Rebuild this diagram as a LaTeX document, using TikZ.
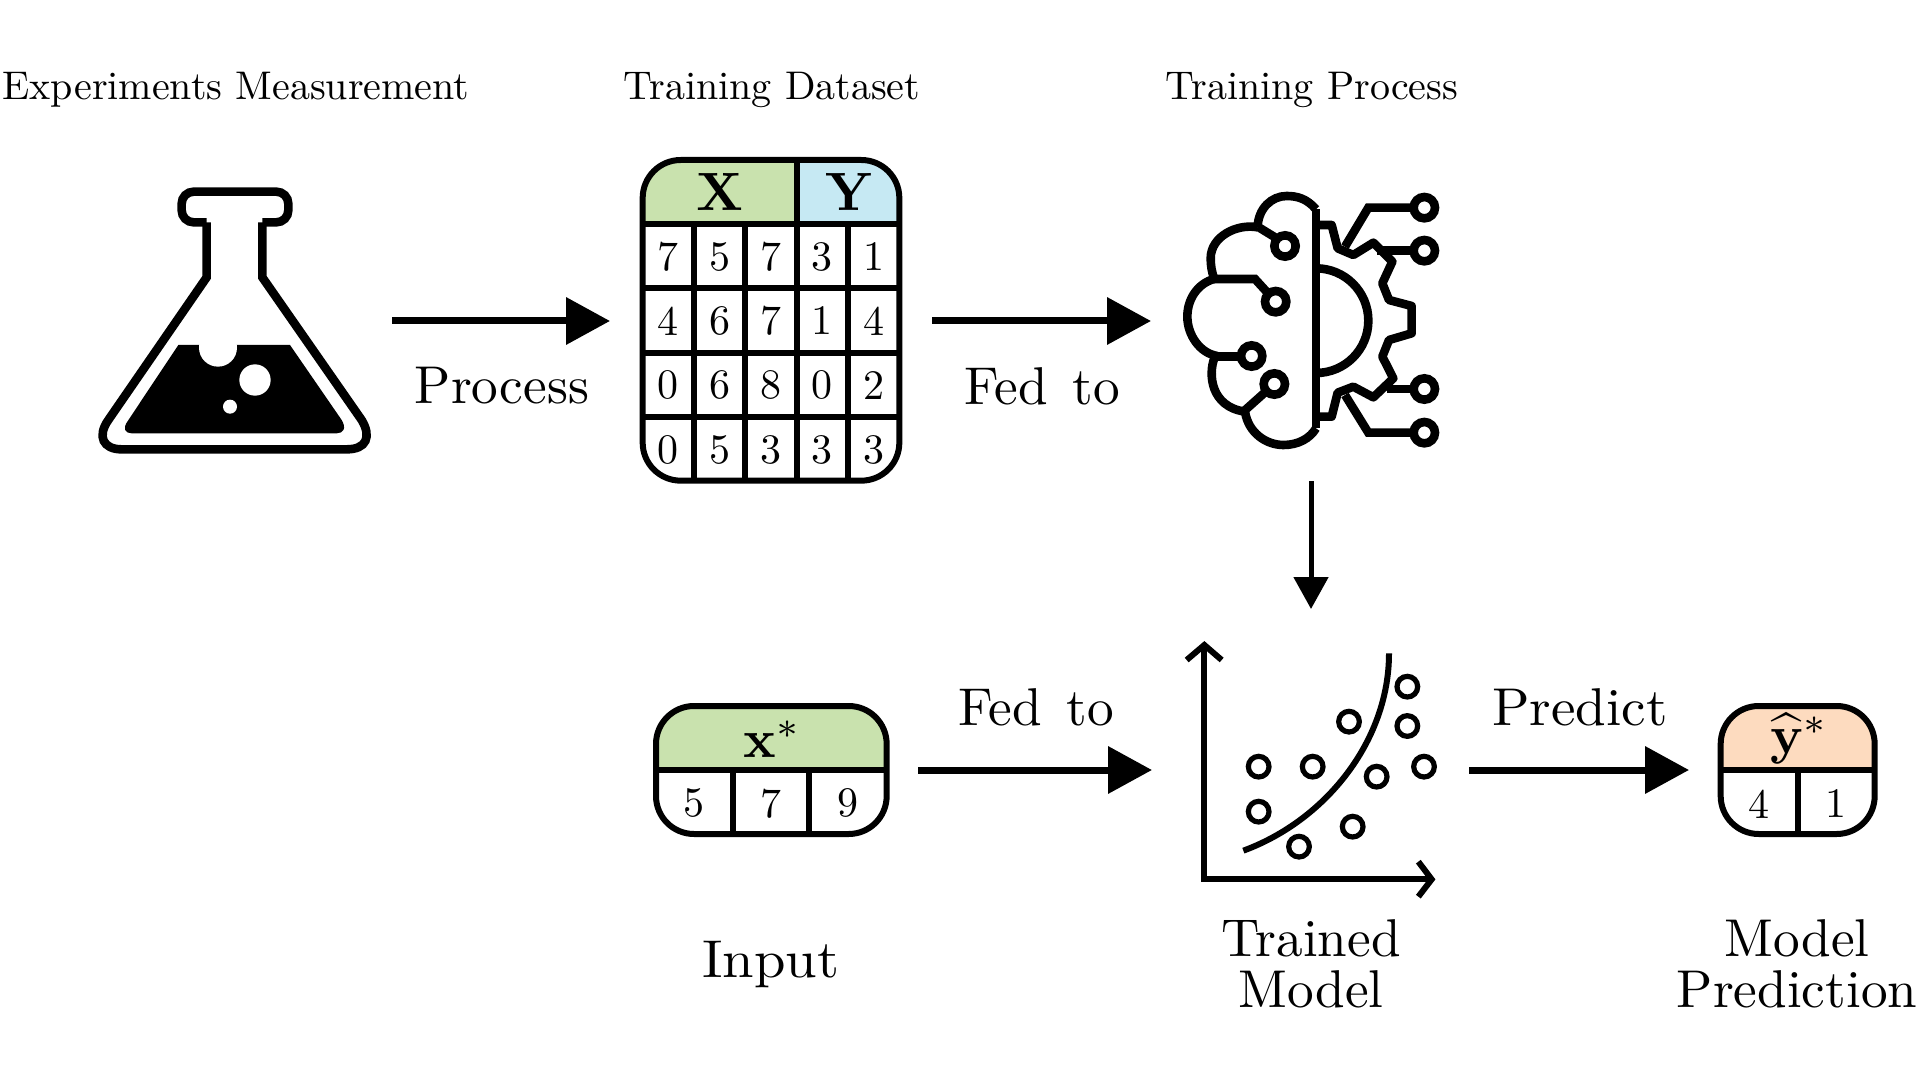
\documentclass[tikz,border=0pt]{standalone}
\usepackage{amsmath}
\usepackage{amssymb}
\usetikzlibrary{arrows.meta,positioning}
\definecolor{headgreen}{HTML}{C9E2AE}
\definecolor{headblue}{HTML}{C6E9F3}
\definecolor{headorange}{HTML}{FDDBBF}
\begin{document}
\begin{tikzpicture}[x=0.5pt,y=-0.5pt,
  toplabel/.style={scale=2.0,inner sep=0pt},
  biglabel/.style={scale=2.66,inner sep=0pt,align=center},
  cellnum/.style={scale=2.1,inner sep=0pt},
  headtxt/.style={scale=2.7,inner sep=0pt},
  flow/.style={line width=3.5pt,-{Triangle[length=22pt,width=23pt]}},
  flowsmall/.style={line width=2.5pt,-{Triangle[length=16pt,width=17pt]}},
  icon/.style={line width=4.3pt,line join=miter},
  plotline/.style={line width=3pt,line join=miter},
  plotdot/.style={line width=2.6pt},
  tabline/.style={line width=3pt},
  pad/.style={line width=4.3pt,fill=white}]
\useasboundingbox (0,0) rectangle (1920,1080);

\node[toplabel] (lab exp) at (236,90) {Experiments Measurement};
\node[toplabel] (lab data) at (772,90) {Training Dataset};
\node[toplabel] (lab train) at (1312,90) {Training Process};

% flask
\begin{scope}[shift={(80,160)},scale=1/3]
\draw[icon,rounded corners=6pt] (380,187) -- (305,187) -- (305,95) -- (625,95) -- (625,187) -- (547,187);
\draw[icon] (380,187) -- (380,352) -- (85,780) .. controls (50,830) and (70,868) .. (125,868) -- (800,868) .. controls (860,868) and (875,830) .. (845,780) -- (547,352) -- (547,187);
\fill[black] (295,555) -- (630,555) -- (785,780) .. controls (800,805) and (790,820) .. (770,820) -- (155,820) .. controls (135,820) and (128,805) .. (142,785) -- cycle;
\fill[white] (414,563) circle (57);
\fill[white] (525,660) circle (47);
\fill[white] (450,740) circle (21);
\end{scope}

% dataset table
\begin{scope}[shift={(620,140)},scale=1/3]
\begin{scope}
\clip[rounded corners=19pt] (68,60) rectangle (838,1022);
\fill[headgreen] (68,60) rectangle (530,252);
\fill[headblue] (530,60) rectangle (838,252);
\end{scope}
\draw[tabline,rounded corners=19pt] (68,60) rectangle (838,1022);
\draw[tabline] (68,252) -- (838,252);
\draw[tabline] (68,445) -- (838,445);
\draw[tabline] (68,638) -- (838,638);
\draw[tabline] (68,831) -- (838,831);
\draw[tabline] (222,252) -- (222,1022);
\draw[tabline] (376,252) -- (376,1022);
\draw[tabline] (530,60) -- (530,1022);
\draw[tabline] (684,252) -- (684,1022);
\node[headtxt] (hx) at (299,157) {$\mathbf{X}$};
\node[headtxt] (hy) at (688,157) {$\mathbf{Y}$};
\node[cellnum] (a11) at (145,350) {7};
\node[cellnum] (a12) at (299,350) {5};
\node[cellnum] (a13) at (453,350) {7};
\node[cellnum] (a14) at (607,350) {3};
\node[cellnum] (a15) at (761,350) {1};
\node[cellnum] (a21) at (145,543) {4};
\node[cellnum] (a22) at (299,543) {6};
\node[cellnum] (a23) at (453,543) {7};
\node[cellnum] (a24) at (607,543) {1};
\node[cellnum] (a25) at (761,543) {4};
\node[cellnum] (a31) at (145,736) {0};
\node[cellnum] (a32) at (299,736) {6};
\node[cellnum] (a33) at (453,736) {8};
\node[cellnum] (a34) at (607,736) {0};
\node[cellnum] (a35) at (761,736) {2};
\node[cellnum] (a41) at (145,929) {0};
\node[cellnum] (a42) at (299,929) {5};
\node[cellnum] (a43) at (453,929) {3};
\node[cellnum] (a44) at (607,929) {3};
\node[cellnum] (a45) at (761,929) {3};
\end{scope}

% brain and gear
\begin{scope}[shift={(1160,170)},scale=1/3]
\draw[icon] (468,118) .. controls (440,85) and (410,78) .. (380,78) .. controls (335,78) and (295,115) .. (293,170);
\draw[icon] (293,172) .. controls (230,160) and (152,200) .. (152,265) .. controls (152,285) and (155,305) .. (162,325);
\draw[icon] (162,327) .. controls (115,340) and (82,385) .. (82,440) .. controls (82,495) and (120,550) .. (172,558);
\draw[icon] (163,565) .. controls (145,610) and (150,710) .. (255,725);
\draw[icon] (255,725) .. controls (265,790) and (320,825) .. (370,825) .. controls (415,825) and (450,805) .. (468,775);
\draw[icon] (468,118) -- (468,775);
\draw[icon] (293,170) -- (350,205);
\draw[icon] (162,327) -- (285,327) -- (347,395);
\draw[icon] (172,560) -- (275,560);
\draw[icon] (250,725) -- (343,642);
\draw[pad] (375,228) circle (32);
\draw[pad] (347,395) circle (32);
\draw[pad] (275,558) circle (32);
\draw[pad] (343,642) circle (32);
\draw[icon] (468,295) arc (-90:90:157);
\draw[icon,line join=round] (468,165) -- (515,165) -- (533,235) -- (580,255) -- (640,218) -- (697,275) -- (667,340) -- (687,390) -- (755,408) -- (755,490) -- (687,510) -- (667,560) -- (700,625) -- (640,682) -- (580,650) -- (533,668) -- (515,740) -- (468,740);
\draw[icon] (555,230) -- (625,113) -- (793,113);
\draw[icon] (650,242) -- (793,242);
\draw[icon] (680,657) -- (793,657);
\draw[icon] (555,675) -- (625,788) -- (793,788);
\draw[pad] (793,113) circle (32);
\draw[pad] (793,242) circle (32);
\draw[pad] (793,657) circle (32);
\draw[pad] (793,788) circle (32);
\end{scope}

% input table
\begin{scope}[shift={(640,690)},scale=1/3]
\begin{scope}
\clip[rounded corners=19pt] (48,48) rectangle (740,432);
\fill[headgreen] (48,48) rectangle (740,241);
\end{scope}
\draw[tabline,rounded corners=19pt] (48,48) rectangle (740,432);
\draw[tabline] (48,241) -- (740,241);
\draw[tabline] (278,241) -- (278,432);
\draw[tabline] (508,241) -- (508,432);
\node[headtxt] (hinput) at (398,147) {$\mathbf{x}^{*}$};
\node[cellnum] (b1) at (163,340) {5};
\node[cellnum] (b2) at (393,340) {7};
\node[cellnum] (b3) at (625,340) {9};
\end{scope}

% scatter plot
\begin{scope}[shift={(1170,630)},scale=1/3]
\draw[plotline] (50,90) -- (103,45) -- (155,90);
\draw[plotline] (745,695) -- (785,748) -- (745,800);
\draw[plotline] (103,45) -- (103,748) -- (785,748);
\draw[plotline] (220,662) .. controls (470,570) and (657,330) .. (657,70);
\draw[plotdot] (712,170) circle (31);
\draw[plotdot] (537,275) circle (31);
\draw[plotdot] (712,288) circle (31);
\draw[plotdot] (266,410) circle (31);
\draw[plotdot] (428,410) circle (31);
\draw[plotdot] (762,410) circle (31);
\draw[plotdot] (620,440) circle (31);
\draw[plotdot] (266,545) circle (31);
\draw[plotdot] (548,590) circle (31);
\draw[plotdot] (387,650) circle (31);
\end{scope}

% output table
\begin{scope}[shift={(1700,690)},scale=1/3]
\begin{scope}
\clip[rounded corners=19pt] (62,48) rectangle (524,432);
\fill[headorange] (62,48) rectangle (524,241);
\end{scope}
\draw[tabline,rounded corners=19pt] (62,48) rectangle (524,432);
\draw[tabline] (62,241) -- (524,241);
\draw[tabline] (293,241) -- (293,432);
\node[headtxt] (houtput) at (298,147) {$\widehat{\mathbf{y}}^{*}$};
\node[cellnum] (c1) at (178,342) {4};
\node[cellnum] (c2) at (408,342) {1};
\end{scope}

% arrows and their labels
\coordinate (p1) at (392,321);
\coordinate (p2) at (610,321);
\coordinate (f1) at (932,321);
\coordinate (f2) at (1151,321);
\coordinate (t1) at (1311,481);
\coordinate (t2) at (1311,609);
\coordinate (i1) at (918,770);
\coordinate (i2) at (1152,770);
\coordinate (o1) at (1469,770);
\coordinate (o2) at (1689,770);
\draw[flow] (p1) -- (p2);
\draw[flow] (f1) -- (f2);
\draw[flowsmall] (t1) -- (t2);
\draw[flow] (i1) -- (i2);
\draw[flow] (o1) -- (o2);
\node[biglabel] (lab proc) at (502,386) {Process};
\node[biglabel] (lab fed) at (1042,386) {Fed\hspace{4.6pt}to};
\node[biglabel] (lab fedb) at (1036,707) {Fed\hspace{4.6pt}to};
\node[biglabel,xscale=1.035] (lab pred) at (1580,707) {Predict};
\node[biglabel,xscale=1.065] (lab input) at (771,964) {Input};
\node[biglabel] (lab model) at (1311,964) {Trained\\[-2.4pt]Model};
\node[biglabel] (lab out) at (1797,964) {Model\\[-2.4pt]Prediction};
\end{tikzpicture}
\end{document}
